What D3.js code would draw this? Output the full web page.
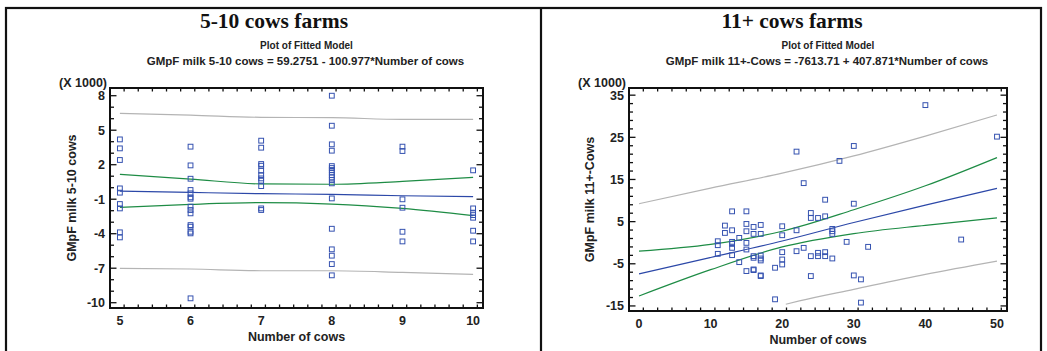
<!DOCTYPE html>
<html lang="en">
<head>
  <meta charset="UTF-8" />
  <title>Plot of Fitted Model</title>
  <script src="https://cdn.jsdelivr.net/npm/d3@7"></script>
  <style>
    body {
      margin: 0;
      background-color: #fff;
    }
    svg text {
      font-family: "Liberation Sans", Arial, sans-serif;
      font-weight: bold;
      fill: #222;
    }
    svg text.title {
      font-family: "Liberation Serif", "Times New Roman", serif;
      fill: #111;
    }
  </style>
</head>
<body>
  <div id="chart"></div>

  <script>
    // ---- 5-10 cows farms (values in thousands) ----
    const smallCows = [
      5, 5, 5, 5, 5, 5, 5, 5, 5,
      6, 6, 6, 6, 6, 6, 6, 6, 6, 6, 6, 6, 6, 6, 6,
      7, 7, 7, 7, 7, 7, 7, 7, 7, 7, 7,
      8, 8, 8, 8, 8, 8, 8, 8, 8, 8, 8, 8, 8, 8, 8, 8, 8, 8,
      9, 9, 9, 9, 9, 9,
      10, 10, 10, 10, 10, 10, 10
    ];
    const smallGmpf = [
      4.2, 3.42, 2.41, -0.06, -0.43, -1.42, -1.8, -3.88, -4.32,
      3.57, 1.94, 0.78, -0.2, -0.49, -0.84, -0.96, -1.65, -1.94, -2.23, -3.25, -3.39, -3.83, -3.97, -9.62,
      4.09, 3.48, 2.06, 1.91, 1.48, 1.1, 0.81, 0.61, 0.14, -1.8, -1.94,
      8.0, 5.39, 3.77, 3.22, 1.88, 1.71, 1.54, 1.33, 1.1, 0.9, 0.67, 0.38, -0.93, -3.57, -5.36, -5.91, -6.64, -7.62,
      3.57, 3.19, -1.01, -1.74, -3.83, -4.67,
      1.51, -1.8, -2.17, -2.38, -2.61, -3.74, -4.67
    ];
    const smallLineX = [5, 6, 7, 8, 9, 10];
    const smallFit = [-0.29, -0.41, -0.52, -0.58, -0.7, -0.78];
    const smallConfUp = [1.16, 0.75, 0.33, 0.3, 0.55, 0.9];
    const smallConfLo = [-1.71, -1.45, -1.3, -1.42, -1.8, -2.43];
    const smallPredUp = [6.46, 6.32, 6.12, 6.09, 5.94, 5.94];
    const smallPredLo = [-7.01, -7.07, -7.22, -7.22, -7.36, -7.54];

    // ---- 11+ cows farms (values in thousands) ----
    const bigCows = [
      11, 11, 11, 12, 12,
      13, 13, 13, 13, 13, 13, 14, 14,
      15, 15, 15, 15, 15, 15,
      16, 16, 16, 16, 16, 16,
      17, 17, 17, 17, 17, 17, 17,
      19, 19, 20, 20, 20, 20, 20,
      22, 22, 22, 23, 23,
      24, 24, 24, 24, 25, 25, 25,
      26, 26, 26, 26, 27, 27, 27, 27,
      28, 29, 30, 30, 30, 31, 31, 32, 40, 45, 50
    ];
    const bigGmpf = [
      0.35, -0.59, -2.64, 4.06, 2.32,
      7.44, 2.95, 0.2, -0.28, -1.22, -2.95, 1.14, -4.61,
      7.44, 4.45, 2.72, -0.04, -1.61, -6.73,
      3.74, 2.09, -3.19, -3.58, -6.34, -6.5,
      4.21, 2.09, -3.03, -3.74, -4.21, -7.76, -7.91,
      -5.94, -13.43, 3.9, 1.77, -2.24, -3.98, -5.16,
      21.61, 2.95, -2.01, 14.13, -1.22,
      7.05, 5.87, -3.19, -7.91, 5.87, -2.4, -3.19,
      10.2, 6.26, -2.24, -3.19, 3.27, 2.72, 2.09, -3.74,
      19.41, 0.2, 22.95, 9.25, -7.76, -8.7, -14.21, -0.98, 32.64, 0.75, 25.16
    ];
    const bigLineX = [0, 10, 20, 30, 40, 50];
    const bigFit = [-7.4, -3.5, 0.4, 4.8, 8.9, 12.9];
    const bigConfUp = [-2.01, -0.4, 2.72, 7.83, 13.5, 20.2];
    const bigConfLo = [-12.64, -6.4, -1.0, 2.17, 4.13, 5.87];
    const bigPredUp = [9.25, 12.95, 16.5, 20.6, 25.3, 30.3];
    const bigPredLoX = [20.5, 22.4, 30, 40, 50];
    const bigPredLo = [-14.6, -13.8, -11.06, -7.52, -4.37];

    const W = 1047, H = 351;
    const svg = d3.select("#chart").append("svg")
      .attr("width", W)
      .attr("height", H);

    // outer frame and divider
    svg.append("rect")
      .attr("x", 6).attr("y", 8)
      .attr("width", 1035).attr("height", 360)
      .attr("fill", "none").attr("stroke", "#111").attr("stroke-width", 2.2);
    svg.append("line")
      .attr("x1", 541).attr("x2", 541).attr("y1", 8).attr("y2", H)
      .attr("stroke", "#111").attr("stroke-width", 2.2);

    function drawPanel(p) {
      const x = d3.scaleLinear().domain(p.xDomain).range([p.left, p.right]);
      const y = d3.scaleLinear().domain(p.yDomain).range([p.bottom, p.top]);
      const cx = (p.left + p.right) / 2;

      svg.append("text").attr("class", "title")
        .attr("x", p.titleX).attr("y", 28)
        .attr("text-anchor", "middle").attr("font-size", 21.5)
        .text(p.title);
      svg.append("text")
        .attr("x", cx + 10).attr("y", 49)
        .attr("text-anchor", "middle").attr("font-size", 10)
        .text("Plot of Fitted Model");
      svg.append("text")
        .attr("x", cx + 9).attr("y", 65)
        .attr("text-anchor", "middle").attr("font-size", 11.5)
        .text(p.equation);
      svg.append("text")
        .attr("x", p.left - 3).attr("y", 87)
        .attr("text-anchor", "end").attr("font-size", 12.5)
        .text("(X 1000)");

      // ticks: inside on all four sides
      const g = svg.append("g");
      const minorX = d3.range(p.xDomain[0], p.xDomain[1] + 1e-9, p.xMinor)
        .filter(v => v >= x.invert(p.left) && v <= x.invert(p.right));
      const minorY = d3.range(p.yMinorStart, p.yDomain[1] + 1e-9, p.yMinor);
      const isMajor = (v, arr) => arr.some(m => Math.abs(m - v) < 1e-6);

      minorX.forEach(v => {
        const len = isMajor(v, p.xTicks) ? 6 : 3.5;
        g.append("line").attr("x1", x(v)).attr("x2", x(v))
          .attr("y1", p.bottom).attr("y2", p.bottom - len);
        g.append("line").attr("x1", x(v)).attr("x2", x(v))
          .attr("y1", p.top).attr("y2", p.top + len);
      });
      minorY.forEach(v => {
        const len = isMajor(v, p.yTicks) ? 6.5 : 4;
        g.append("line").attr("x1", p.left).attr("x2", p.left + len)
          .attr("y1", y(v)).attr("y2", y(v));
        g.append("line").attr("x1", p.right).attr("x2", p.right - len)
          .attr("y1", y(v)).attr("y2", y(v));
      });
      g.selectAll("line").attr("stroke", "#111").attr("stroke-width", 1.3);

      // tick labels
      svg.append("g").selectAll("text")
        .data(p.xTicks).join("text")
        .attr("x", d => x(d)).attr("y", p.bottom + 17)
        .attr("text-anchor", "middle").attr("font-size", 12.5)
        .text(d => d);
      svg.append("g").selectAll("text")
        .data(p.yTicks).join("text")
        .attr("x", p.left - 5).attr("y", d => y(d) + 4.5)
        .attr("text-anchor", "end").attr("font-size", 12.5)
        .text(d => d);

      // axis titles
      svg.append("text")
        .attr("x", cx).attr("y", p.bottom + 33)
        .attr("text-anchor", "middle").attr("font-size", 12.5)
        .text("Number of cows");
      svg.append("text")
        .attr("transform", `translate(${p.yTitleX},${(p.top + p.bottom) / 2}) rotate(-90)`)
        .attr("text-anchor", "middle").attr("font-size", 12.5)
        .text(p.yTitle);

      // lines
      const clipId = "clip" + p.id;
      svg.append("clipPath").attr("id", clipId)
        .append("rect")
        .attr("x", p.left).attr("y", p.top)
        .attr("width", p.right - p.left).attr("height", p.bottom - p.top);
      const plot = svg.append("g").attr("clip-path", `url(#${clipId})`);
      const line = d3.line()
        .x(d => x(d[0])).y(d => y(d[1]))
        .curve(d3.curveMonotoneX);
      p.lines.forEach(l => {
        plot.append("path")
          .datum(d3.zip(l.xs, l.ys))
          .attr("fill", "none")
          .attr("stroke", l.color)
          .attr("stroke-width", 1.2)
          .attr("d", line);
      });

      // points
      const s = 4.8;
      plot.selectAll("rect.pt")
        .data(d3.zip(p.xs, p.ys)).join("rect")
        .attr("class", "pt")
        .attr("x", d => x(d[0]) - s / 2).attr("y", d => y(d[1]) - s / 2)
        .attr("width", s).attr("height", s)
        .attr("fill", "none").attr("stroke", "#3552b0").attr("stroke-width", 1);

      // plot frame
      svg.append("rect")
        .attr("x", p.left).attr("y", p.top)
        .attr("width", p.right - p.left).attr("height", p.bottom - p.top)
        .attr("fill", "none").attr("stroke", "#111").attr("stroke-width", 2);
    }

    const GRAY = "#b4b4b4", GREEN = "#1e8c45", BLUE = "#2c48a8";

    drawPanel({
      id: 1,
      title: "5-10 cows farms",
      titleX: 274,
      equation: "GMpF milk 5-10 cows = 59.2751 - 100.977*Number of cows",
      yTitle: "GMpF milk 5-10 cows",
      yTitleX: 76,
      left: 110, right: 483, top: 88, bottom: 308,
      xDomain: [4.86, 10.14], yDomain: [-10.46, 8.67],
      xTicks: [5, 6, 7, 8, 9, 10], xMinor: 0.2,
      yTicks: [-10, -7, -4, -1, 2, 5, 8], yMinor: 1, yMinorStart: -10,
      xs: smallCows, ys: smallGmpf,
      lines: [
        { xs: smallLineX, ys: smallPredUp, color: GRAY },
        { xs: smallLineX, ys: smallPredLo, color: GRAY },
        { xs: smallLineX, ys: smallConfUp, color: GREEN },
        { xs: smallLineX, ys: smallConfLo, color: GREEN },
        { xs: smallLineX, ys: smallFit, color: BLUE }
      ]
    });

    drawPanel({
      id: 2,
      title: "11+ cows farms",
      titleX: 792,
      equation: "GMpF milk 11+-Cows = -7613.71 + 407.871*Number of cows",
      yTitle: "GMpF milk 11+-Cows",
      yTitleX: 594,
      left: 629, right: 1007, top: 88, bottom: 311,
      xDomain: [-1.4, 51.4], yDomain: [-16.2, 36.7],
      xTicks: [0, 10, 20, 30, 40, 50], xMinor: 2,
      yTicks: [-15, -5, 5, 15, 25, 35], yMinor: 2, yMinorStart: -15,
      xs: bigCows, ys: bigGmpf,
      lines: [
        { xs: bigLineX, ys: bigPredUp, color: GRAY },
        { xs: bigPredLoX, ys: bigPredLo, color: GRAY },
        { xs: bigLineX, ys: bigConfUp, color: GREEN },
        { xs: bigLineX, ys: bigConfLo, color: GREEN },
        { xs: bigLineX, ys: bigFit, color: BLUE }
      ]
    });
  </script>
</body>
</html>
